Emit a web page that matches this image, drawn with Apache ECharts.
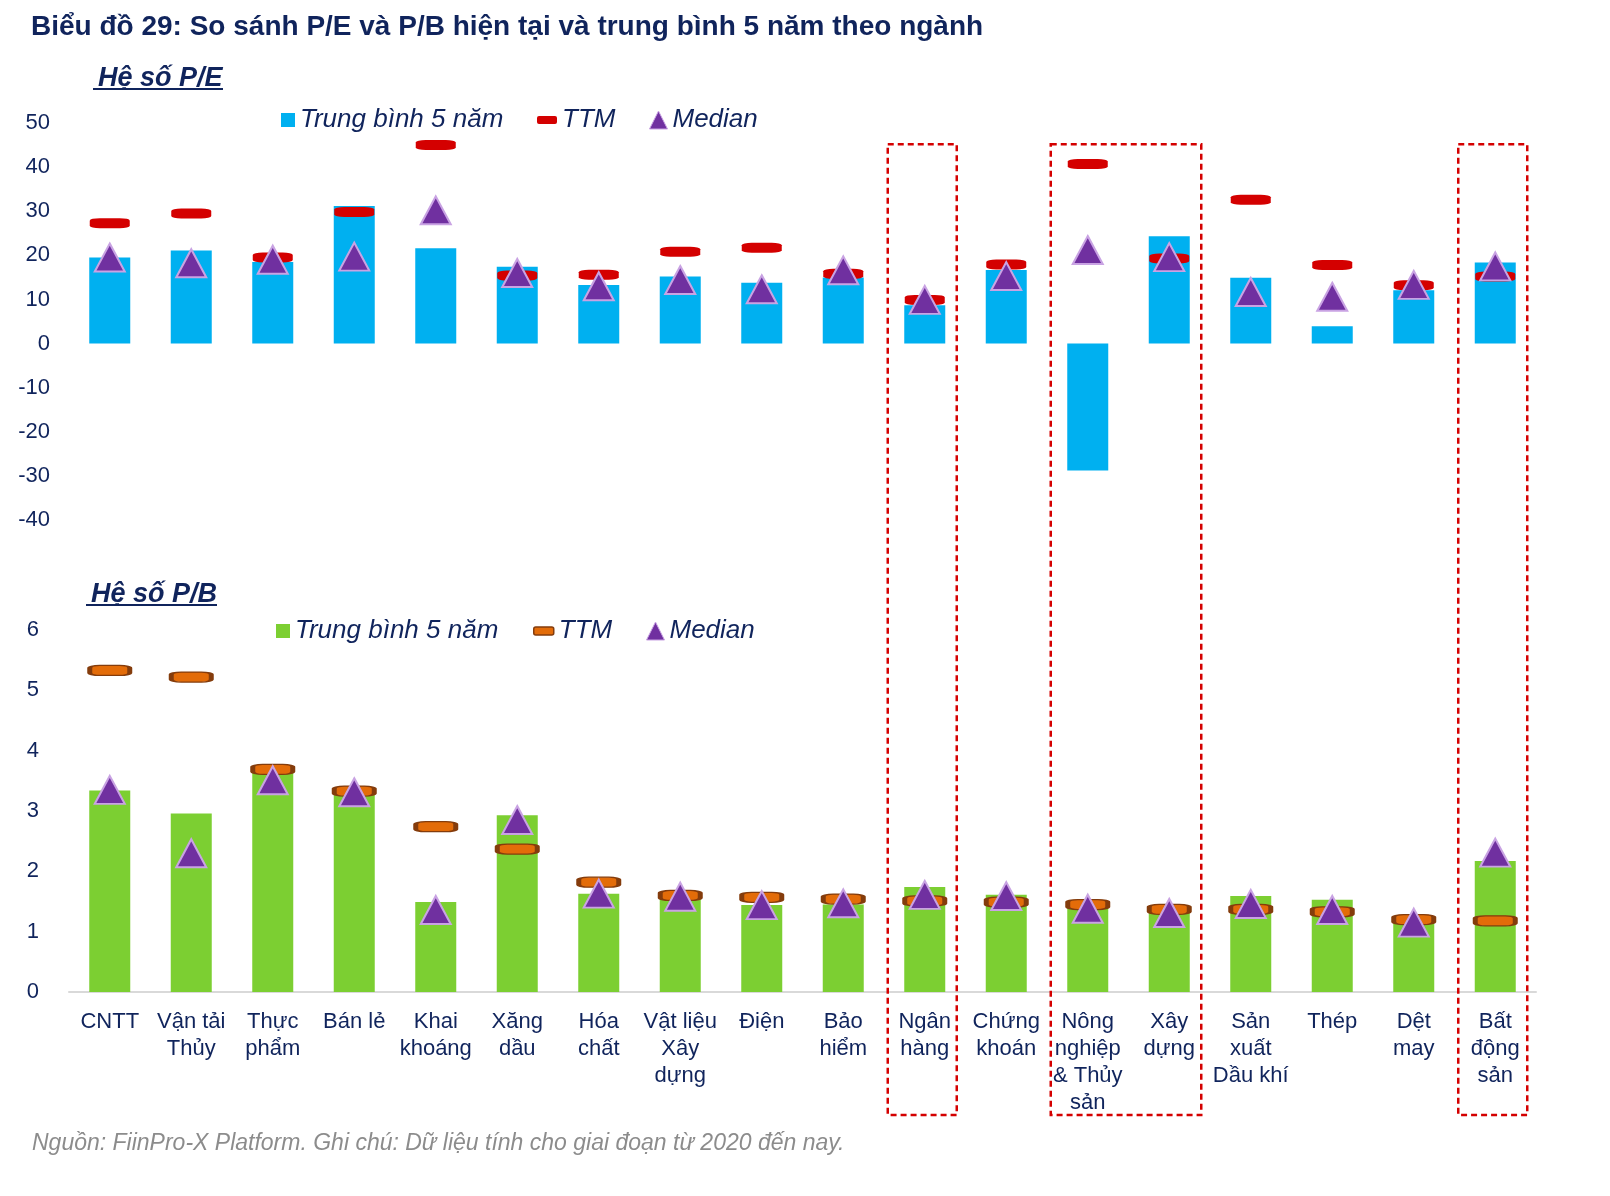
<!DOCTYPE html>
<html>
<head>
<meta charset="utf-8">
<script src="https://cdn.jsdelivr.net/npm/echarts@6/dist/echarts.min.js"></script>
<style>
  html, body { margin: 0; padding: 0; background: #fff; }
  #main { width: 1610px; height: 1196px; }
</style>
</head>
<body>
<div id="main"></div>
<script>
// danh mục ngành (nhãn trục X)
var categories = ['CNTT', 'Vận tải\nThủy', 'Thực\nphẩm', 'Bán lẻ', 'Khai\nkhoáng', 'Xăng\ndầu',
  'Hóa\nchất', 'Vật liệu\nXây\ndựng', 'Điện', 'Bảo\nhiểm', 'Ngân\nhàng', 'Chứng\nkhoán',
  'Nông\nnghiệp\n& Thủy\nsản', 'Xây\ndựng', 'Sản\nxuất\nDầu khí', 'Thép', 'Dệt\nmay', 'Bất\nđộng\nsản'];

// P/E
var peAvg = [19.5, 21.1, 18.5, 31.2, 21.6, 17.4, 13.3, 15.2, 13.8, 15.0, 8.7, 16.7, -28.8, 24.3, 14.9, 3.9, 12.1, 18.4];
var peTTM = [27.3, 29.5, 19.5, 29.8, 45.0, 15.4, 15.6, 20.8, 21.7, 15.8, 9.9, 17.9, 40.7, 19.3, 32.6, 17.8, 13.2, 15.2];
var peMedian = [19.5, 18.2, 19.0, 19.7, 30.2, 16.0, 13.0, 14.4, 12.3, 16.6, 9.9, 15.3, 21.2, 19.6, 11.7, 10.6, 13.3, 17.5];

// P/B
var pbAvg = [3.34, 2.96, 3.65, 3.30, 1.49, 2.93, 1.63, 1.56, 1.44, 1.45, 1.74, 1.61, 1.45, 1.36, 1.59, 1.53, 1.22, 2.17];
var pbTTM = [5.33, 5.22, 3.69, 3.33, 2.74, 2.37, 1.82, 1.60, 1.57, 1.54, 1.51, 1.49, 1.45, 1.37, 1.37, 1.33, 1.20, 1.18];
var pbMedian = [3.35, 2.30, 3.51, 3.31, 1.36, 2.85, 1.63, 1.58, 1.44, 1.47, 1.61, 1.59, 1.38, 1.31, 1.46, 1.36, 1.15, 2.31];

// nhóm ngành được khoanh đỏ
var highlightGroups = [['Ngân\nhàng'], ['Nông\nnghiệp\n& Thủy\nsản', 'Xây\ndựng'], ['Bất\nđộng\nsản']];

var navy = '#10245c';
var font = 'Arial, "Liberation Sans", sans-serif';

var chart = echarts.init(document.getElementById('main'));

function legendItem(left, top, name, icon, w, h, style) {
  return {
    left: left, top: top, itemWidth: w, itemHeight: h, itemGap: 0,
    selectedMode: false,
    data: [{ name: name, icon: icon, itemStyle: style }],
    textStyle: { fontFamily: font, fontSize: 26, fontStyle: 'italic', color: navy }
  };
}

var option = {
  animation: false,
  backgroundColor: '#fff',
  title: [
    {
      text: 'Biểu đồ 29: So sánh P/E và P/B hiện tại và trung bình 5 năm theo ngành',
      left: 26, top: 8,
      textStyle: { fontFamily: font, fontSize: 28, fontWeight: 'bold', color: navy }
    },
    {
      text: 'Hệ số P/E', left: 93, top: 60,
      textStyle: { fontFamily: font, fontSize: 27, fontWeight: 'bold', fontStyle: 'italic', color: navy }
    },
    {
      text: 'Hệ số P/B', left: 86, top: 576,
      textStyle: { fontFamily: font, fontSize: 27, fontWeight: 'bold', fontStyle: 'italic', color: navy }
    },
    {
      text: 'Nguồn: FiinPro-X Platform. Ghi chú: Dữ liệu tính cho giai đoạn từ 2020 đến nay.',
      left: 27, top: 1127,
      textStyle: { fontFamily: font, fontSize: 23, fontWeight: 'normal', fontStyle: 'italic', color: '#8c8c8c' }
    }
  ],
  legend: [
    legendItem(276, 102, 'Trung bình 5 năm', 'rect', 14, 14, { color: '#00b0f0' }),
    legendItem(532, 102, 'TTM', 'roundRect', 20, 8, { color: '#d40000' }),
    legendItem(644, 102, 'Median', 'triangle', 18, 18, { color: '#7030a0', borderColor: '#c9a3e3', borderWidth: 1 }),
    legendItem(271, 613, 'Trung bình 5 năm ', 'rect', 14, 14, { color: '#7ccf32' }),
    legendItem(528, 613, 'TTM ', 'roundRect', 20, 8, { color: '#e36c09', borderColor: '#843c0c', borderWidth: 1.5 }),
    legendItem(641, 613, 'Median ', 'triangle', 18, 18, { color: '#7030a0', borderColor: '#c9a3e3', borderWidth: 1 })
  ],
  grid: [
    { left: 69, right: 74, top: 123, height: 397 },
    { left: 69, right: 74, top: 630, height: 362 }
  ],
  xAxis: [
    {
      type: 'category', gridIndex: 0, data: categories,
      axisLine: { show: false }, axisTick: { show: false }, axisLabel: { show: false }
    },
    {
      type: 'category', gridIndex: 1, data: categories,
      axisLine: { show: true, lineStyle: { color: '#d9d9d9', width: 2 } },
      axisTick: { show: false },
      axisLabel: {
        interval: 0, margin: 16, fontFamily: font, fontSize: 22, color: navy,
        lineHeight: 27, verticalAlign: 'top'
      }
    }
  ],
  yAxis: [
    {
      type: 'value', gridIndex: 0, min: -40, max: 50, interval: 10,
      axisLine: { show: false }, axisTick: { show: false }, splitLine: { show: false },
      axisLabel: { margin: 19, fontFamily: font, fontSize: 22, color: navy }
    },
    {
      type: 'value', gridIndex: 1, min: 0, max: 6, interval: 1,
      axisLine: { show: false }, axisTick: { show: false }, splitLine: { show: false },
      axisLabel: { margin: 30, fontFamily: font, fontSize: 22, color: navy }
    }
  ],
  series: [
    {
      name: 'Trung bình 5 năm', type: 'bar', xAxisIndex: 0, yAxisIndex: 0,
      data: peAvg, barWidth: 41, itemStyle: { color: '#00b0f0' }, z: 2
    },
    {
      name: 'TTM', type: 'scatter', xAxisIndex: 0, yAxisIndex: 0,
      data: peTTM, symbol: 'roundRect', symbolSize: [40, 10],
      itemStyle: { color: '#d40000', opacity: 1 }, z: 3
    },
    {
      name: 'Median', type: 'scatter', xAxisIndex: 0, yAxisIndex: 0,
      data: peMedian, symbol: 'triangle', symbolSize: [30, 28],
      itemStyle: { color: '#7030a0', borderColor: '#c9a3e3', borderWidth: 2, opacity: 1 }, z: 4
    },
    {
      name: 'Trung bình 5 năm ', type: 'bar', xAxisIndex: 1, yAxisIndex: 1,
      data: pbAvg, barWidth: 41, itemStyle: { color: '#7ccf32' }, z: 2
    },
    {
      name: 'TTM ', type: 'scatter', xAxisIndex: 1, yAxisIndex: 1,
      data: pbTTM, symbol: 'roundRect', symbolSize: [40, 10],
      itemStyle: { color: '#e36c09', borderColor: '#843c0c', borderWidth: 2.5, opacity: 1 }, z: 3
    },
    {
      name: 'Median ', type: 'scatter', xAxisIndex: 1, yAxisIndex: 1,
      data: pbMedian, symbol: 'triangle', symbolSize: [30, 28],
      itemStyle: { color: '#7030a0', borderColor: '#c9a3e3', borderWidth: 2, opacity: 1 }, z: 4
    }
  ]
};

chart.setOption(option);

// gạch chân tiêu đề phụ + khung đỏ nét đứt quanh các ngành được nhấn mạnh
var graphics = [
  { type: 'rect', shape: { x: 93, y: 88, width: 130, height: 2 }, style: { fill: navy } },
  { type: 'rect', shape: { x: 86, y: 604, width: 131, height: 2 }, style: { fill: navy } }
];
highlightGroups.forEach(function (grp) {
  var x1 = chart.convertToPixel({ xAxisIndex: 1 }, grp[0]) - 37;
  var x2 = chart.convertToPixel({ xAxisIndex: 1 }, grp[grp.length - 1]) + 32;
  var yTop = chart.convertToPixel({ yAxisIndex: 0 }, 45.2);
  graphics.push({
    type: 'rect', z: 10,
    shape: { x: x1, y: yTop, width: x2 - x1, height: 1115 - yTop },
    style: { fill: 'none', stroke: '#d40000', lineWidth: 2.5, lineDash: [6, 4] }
  });
});
chart.setOption({ graphic: graphics });
</script>
</body>
</html>
